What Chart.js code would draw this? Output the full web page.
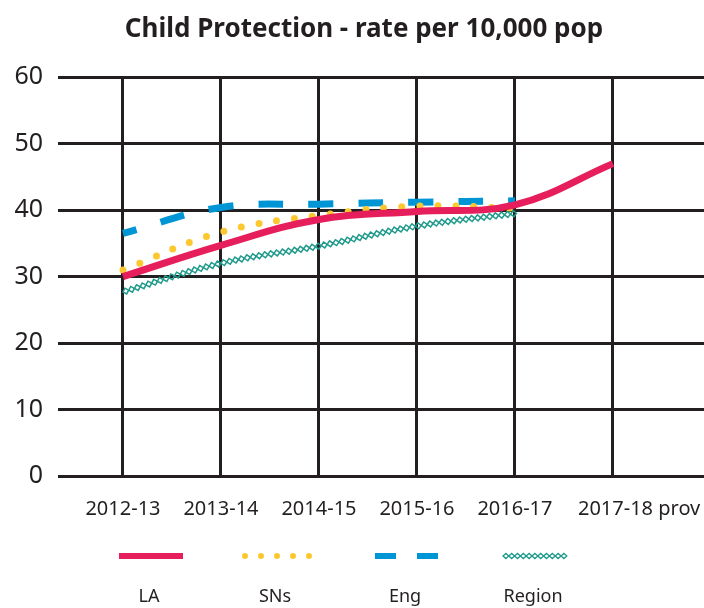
<!DOCTYPE html>
<html><head><meta charset="utf-8">
<script src="https://cdn.jsdelivr.net/npm/chart.js@4"></script>
<style>html,body{margin:0;padding:0;background:#fff}#wrap{width:704px;height:608px;position:relative}</style>
</head><body><div id="wrap"><canvas id="c"></canvas></div>
<script>
// ---- data ----
const categories = ['2012-13', '2013-14', '2014-15', '2015-16', '2016-17', '2017-18 prov'];
const yTicks = [0, 10, 20, 30, 40, 50, 60];
const seriesNames = ['LA', 'SNs', 'Eng', 'Region'];
const laValues = [30, 34.7, 38.6, 39.8, 40.8, 47];
const snValues = [31, 36.7, 39.2, 40.6, 40.3];
const engValues = [36.5, 40.4, 40.9, 41.2, 41.4];
const regionValues = [27.7, 32.0, 34.6, 37.6, 39.5];

// ---- styles ----
const INK = '#231f20';
const FONT = "'Noto Sans', sans-serif";
const C_LA = '#e61e5c', C_SN = '#fdc82f', C_ENG = '#0096d6', C_REG = '#1f9a8c';

const toXY = arr => arr.map((v, i) => ({x: i, y: v}));

function bezierSamples(points) {
  const out = [];
  for (let i = 0; i < points.length - 1; i++) {
    const p0 = points[i], p1 = points[i + 1];
    const c1x = p0.cp2x ?? p0.x, c1y = p0.cp2y ?? p0.y;
    const c2x = p1.cp1x ?? p1.x, c2y = p1.cp1y ?? p1.y;
    for (let k = (i === 0 ? 0 : 1); k <= 120; k++) {
      const t = k / 120, mt = 1 - t;
      const a = mt * mt * mt, b = 3 * mt * mt * t, c = 3 * mt * t * t, d = t * t * t;
      out.push({x: a * p0.x + b * c1x + c * c2x + d * p1.x, y: a * p0.y + b * c1y + c * c2y + d * p1.y});
    }
  }
  return out;
}
function drawDiamondChain(ctx, pts, step, half, color, lw) {
  ctx.save();
  ctx.strokeStyle = color; ctx.lineWidth = lw; ctx.setLineDash([]);
  let acc = 0, next = step / 2;
  for (let i = 1; i < pts.length; i++) {
    const a = pts[i - 1], b = pts[i];
    const dx = b.x - a.x, dy = b.y - a.y, len = Math.hypot(dx, dy);
    if (!len) continue;
    while (acc + len >= next) {
      const t = (next - acc) / len;
      const cx = a.x + dx * t, cy = a.y + dy * t;
      const ux = dx / len, uy = dy / len, nx = -uy, ny = ux, h = step / 2;
      ctx.beginPath();
      ctx.moveTo(cx + ux * h, cy + uy * h);
      ctx.lineTo(cx + nx * half, cy + ny * half);
      ctx.lineTo(cx - ux * h, cy - uy * h);
      ctx.lineTo(cx - nx * half, cy - ny * half);
      ctx.closePath(); ctx.stroke();
      next += step;
    }
    acc += len;
  }
  ctx.restore();
}

const chainPlugin = {
  id: 'chain',
  afterDatasetDraw(chart, args) {
    const ds = chart.data.datasets[args.index];
    if (!ds.chain) return;
    const ctx = chart.ctx, area = chart.chartArea;
    ctx.save();
    ctx.beginPath(); ctx.rect(area.left, area.top - 10, area.right - area.left, area.bottom - area.top + 20); ctx.clip();
    drawDiamondChain(ctx, bezierSamples(args.meta.data), 6, 3, ds.chainColor, 1.5);
    ctx.restore();
  }
};

// shift the title box so it is centred a little right of the canvas middle, as in the source
const titleShiftPlugin = {
  id: 'titleShift',
  afterLayout(chart) { if (chart.titleBlock) { chart.titleBlock.left += 24; } }
};

const lastLabelPlugin = {
  id: 'lastLabel',
  afterDraw(chart) {
    const xs = chart.scales.x, ctx = chart.ctx;
    const i = categories.length - 1;
    ctx.save();
    ctx.font = `20px ${FONT}`;
    ctx.fillStyle = INK; ctx.textAlign = 'left'; ctx.textBaseline = 'middle';
    ctx.fillText(categories[i], xs.getPixelForValue(i) - 35, chart.chartArea.bottom + 33);
    ctx.restore();
  }
};

const legendPlugin = {
  id: 'bottomLegend',
  afterDraw(chart) {
    const ctx = chart.ctx;
    const centers = [151, 277, 407, 535];
    const ySym = 556, yText = 597, half = 32;
    chart.data.datasets.forEach((ds, i) => {
      const cx = centers[i];
      ctx.save();
      if (ds.chain) {
        drawDiamondChain(ctx, [{x: cx - half, y: ySym}, {x: cx + half, y: ySym}], 5.8, 2.6, ds.chainColor, 1.3);
      } else {
        ctx.strokeStyle = ds.borderColor;
        ctx.lineWidth = ds.legendWidth;
        ctx.lineCap = ds.borderCapStyle || 'butt';
        ctx.setLineDash(ds.legendDash || []);
        ctx.beginPath(); ctx.moveTo(cx - half, ySym); ctx.lineTo(cx + half + (ds.legendExtra || 0), ySym); ctx.stroke();
      }
      ctx.restore();
      ctx.save();
      ctx.font = `18px ${FONT}`; ctx.fillStyle = INK; ctx.textAlign = 'center'; ctx.textBaseline = 'middle';
      ctx.fillText(ds.label, cx - 2, yText);
      ctx.restore();
    });
  }
};

new Chart(document.getElementById('c'), {
  type: 'line',
  data: {
    datasets: [
      {label: seriesNames[0], data: toXY(laValues), borderColor: C_LA, borderWidth: 7, tension: 0.4,
       pointRadius: 0, legendWidth: 6, fill: false},
      {label: seriesNames[1], data: toXY(snValues), borderColor: C_SN, borderWidth: 7, tension: 0.4,
       borderDash: [0, 18], borderCapStyle: 'round', pointRadius: 0, legendWidth: 6, legendDash: [0, 16], legendExtra: 0.5, fill: false},
      {label: seriesNames[2], data: toXY(engValues), borderColor: C_ENG, borderWidth: 7, tension: 0.4,
       borderDash: [25, 25], borderDashOffset: 11, pointRadius: 0, legendWidth: 6, legendDash: [21, 21], fill: false},
      {label: seriesNames[3], data: toXY(regionValues), borderColor: 'rgba(0,0,0,0)', borderWidth: 1, tension: 0.4,
       pointRadius: 0, chain: true, chainColor: C_REG, fill: false}
    ]
  },
  options: {
    responsive: true, maintainAspectRatio: false, animation: false,
    layout: {padding: {left: 0, right: 0, top: 0, bottom: 66}},
    plugins: {
      legend: {display: false}, tooltip: {enabled: false},
      title: {display: true, text: 'Child Protection - rate per 10,000 pop', color: INK,
        font: {family: FONT, size: 26, weight: 'bold'}, padding: {top: 14, bottom: 32}}
    },
    scales: {
      x: {
        type: 'linear', min: -0.663, max: 5.929,
        afterBuildTicks: s => { s.ticks = categories.map((_, i) => ({value: i})); },
        ticks: {autoSkip: false, maxRotation: 0, padding: 21, color: INK, font: {family: FONT, size: 20},
          callback: v => (v < categories.length - 1 ? categories[v] : '')},
        grid: {color: INK, lineWidth: 3, drawTicks: false},
        border: {display: false}
      },
      y: {
        min: 0, max: 60,
        afterBuildTicks: s => { s.ticks = yTicks.map(v => ({value: v})); },
        afterFit: s => { s.width = 58; },
        ticks: {padding: 15, color: INK, font: {family: FONT, size: 25}},
        grid: {color: INK, lineWidth: 3, drawTicks: false},
        border: {display: false}
      }
    }
  },
  plugins: [titleShiftPlugin, chainPlugin, lastLabelPlugin, legendPlugin]
});
</script>
</body></html>
